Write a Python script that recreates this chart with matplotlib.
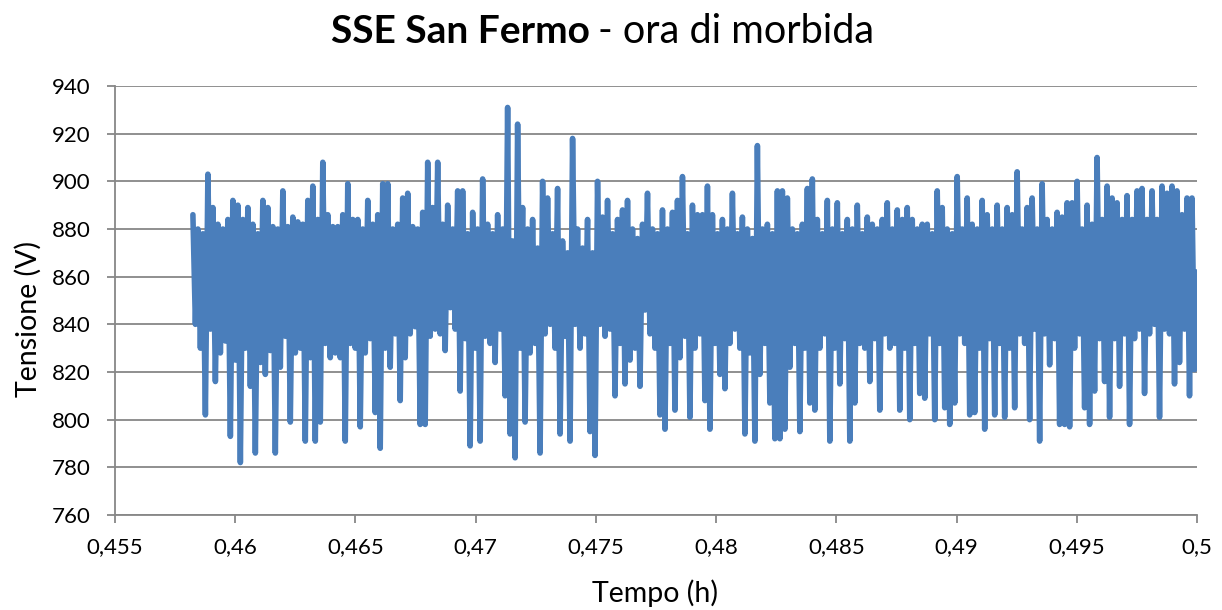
import numpy as np
import matplotlib
matplotlib.use("Agg")
import matplotlib.pyplot as plt
from matplotlib.ticker import FixedLocator

# ---- data ----
t_start = 0.45824
t_end = 0.5

# successive local maxima of the voltage trace (V)
peak_values = [
    886, 880, 878, 903, 889, 882, 880, 884, 892, 890, 884, 889, 882, 878, 892,
    889, 881, 880, 896, 881, 885, 883, 882, 892, 898, 884, 908, 886, 881,
    881, 886, 899, 884, 884, 880, 892, 882, 886, 899, 899, 880, 882, 893, 895,
    881, 880, 887, 908, 889, 908, 882, 890, 880, 896, 896, 878, 887, 880,
    901, 882, 878, 886, 880, 931, 875, 924, 889, 880, 884, 872, 900, 893, 878,
    897, 875, 870, 918, 880, 872, 884, 870, 900, 885, 892, 878, 884, 888, 892,
    880, 876, 882, 895, 880, 878, 888, 880, 887, 892, 902, 878, 890, 886, 886,
    898, 886, 878, 884, 880, 895, 878, 885, 880, 876, 915, 880, 882, 878, 896,
    896, 893, 880, 878, 882, 897, 901, 884, 878, 892, 880, 891, 878, 884, 880,
    890, 878, 885, 882, 880, 884, 891, 880, 888, 884, 889, 884, 880, 882,
    882, 878, 896, 889, 880, 878, 902, 880, 893, 882, 880, 892, 886, 880, 890,
    880, 889, 886, 904, 880, 889, 893, 880, 899, 884, 880, 887, 885, 891,
    891, 900, 880, 890, 882, 910, 884, 898, 893, 891, 884, 894, 884, 896, 897,
    884, 896, 884, 898, 895, 898, 896, 886, 893, 893,
]

# successive local minima of the voltage trace (V)
trough_values = [
    840, 830, 802, 838, 816, 828, 833, 793, 825, 782, 830, 814, 786, 824, 819,
    829, 786, 822, 835, 799, 828, 830, 791, 826, 791, 799, 832, 826, 828,
    826, 791, 832, 830, 797, 828, 834, 803, 788, 830, 822, 836, 808, 826, 836,
    839, 798, 798, 835, 838, 836, 829, 847, 838, 812, 834, 789, 830, 791,
    835, 832, 824, 838, 810, 794, 784, 830, 799, 828, 832, 786, 836, 840, 830,
    794, 835, 791, 840, 830, 836, 795, 785, 840, 835, 838, 810, 832, 815, 825,
    830, 814, 846, 836, 830, 802, 796, 832, 804, 826, 835, 801, 830, 836, 808,
    796, 832, 819, 813, 832, 838, 830, 794, 828, 791, 819, 832, 807, 792, 792,
    796, 822, 832, 795, 830, 807, 804, 830, 836, 791, 830, 815, 834, 791, 807,
    832, 830, 816, 834, 804, 836, 830, 832, 804, 830, 800, 832, 811, 809,
    836, 800, 832, 805, 798, 807, 836, 832, 802, 803, 830, 796, 834, 802, 832,
    801, 830, 805, 836, 832, 800, 838, 791, 836, 823, 834, 798, 798, 797,
    830, 836, 805, 798, 812, 834, 816, 801, 834, 814, 836, 798, 834, 838, 811,
    836, 840, 801, 838, 836, 815, 824, 838, 810, 821,
]
end_value = 862

x_ticks = [0.455, 0.46, 0.465, 0.47, 0.475, 0.48, 0.485, 0.49, 0.495, 0.5]
x_tick_labels = ["0,455", "0,46", "0,465", "0,47", "0,475", "0,48", "0,485",
                 "0,49", "0,495", "0,5"]
y_ticks = [760, 780, 800, 820, 840, 860, 880, 900, 920, 940]

# ---- build trace ----
voltage = []
for hi, lo in zip(peak_values, trough_values):
    voltage.append(hi)
    voltage.append(lo)
voltage.append(end_value)
voltage = np.array(voltage, dtype=float)
time_h = np.linspace(t_start, t_end, len(voltage))

# ---- figure ----
FONT = ["Lato", "DejaVu Sans"]
plt.rcParams["font.family"] = FONT

W, H = 1222, 610
fig = plt.figure(figsize=(W / 100, H / 100), dpi=100)
ax = fig.add_axes([115 / W, 1 - 515 / H, (1197 - 115) / W, (515 - 86) / H])

grid_c = "#878787"
ax.plot(time_h, voltage, color="#4A7EBB", lw=4.0, solid_joinstyle="round",
        solid_capstyle="round", zorder=3)

ax.set_xlim(0.455, 0.5)
ax.set_ylim(760, 940)
ax.xaxis.set_major_locator(FixedLocator(x_ticks))
ax.set_xticklabels(x_tick_labels)
ax.set_yticks(y_ticks)
ax.yaxis.grid(True, color=grid_c, lw=1.3, zorder=1)
ax.set_axisbelow(True)

for s in ["top", "right"]:
    ax.spines[s].set_visible(False)
for s in ["left", "bottom"]:
    ax.spines[s].set_color(grid_c)
    ax.spines[s].set_linewidth(1.3)

ax.tick_params(axis="both", direction="out", length=5.8, width=1.3, color=grid_c,
               labelsize=16, labelcolor="black")
ax.tick_params(axis="x", pad=10)
ax.tick_params(axis="y", pad=12)

fig.text(655 / W, 1 - 593 / H, "Tempo (h)", fontsize=20.5, ha="center", va="center")
fig.text(28 / W, 1 - 319 / H, "Tensione (V)", fontsize=20.5, ha="center",
         va="center", rotation=90)

fig.text(590 / W, 1 - 43 / H, "SSE San Fermo", fontsize=28, fontweight="bold",
         ha="right", va="baseline")
fig.text(598 / W, 1 - 43 / H, "- ora di morbida", fontsize=28.5,
         ha="left", va="baseline")

fig.savefig("out.png", dpi=100)
